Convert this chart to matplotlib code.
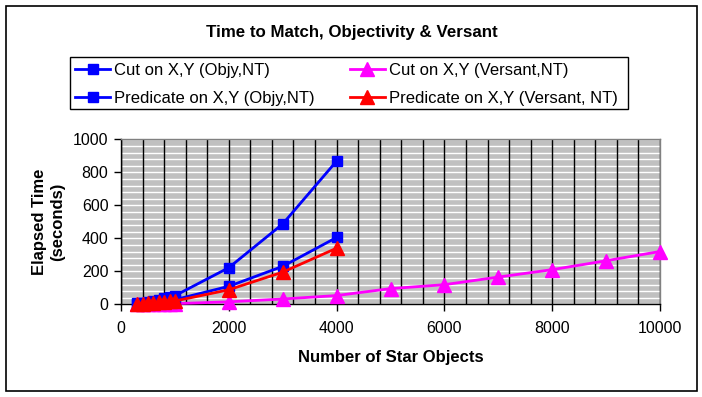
import matplotlib
matplotlib.use("Agg")
import matplotlib.pyplot as plt
from matplotlib.ticker import MultipleLocator
from matplotlib.patches import Rectangle

plt.rcParams['font.family'] = ['Liberation Sans', 'DejaVu Sans']

# ---- data ----
x_objy = [300, 400, 500, 600, 700, 800, 900, 1000, 2000, 3000, 4000]
cut_objy = [5, 10, 16, 22, 29, 36, 44, 52, 222, 487, 868]
pred_objy = [3, 6, 9, 12, 16, 20, 24, 28, 109, 230, 405]
x_versant_pred = [300, 400, 500, 600, 700, 800, 900, 1000, 2000, 3000, 4000]
pred_versant = [2, 4, 6, 8, 11, 14, 17, 20, 88, 195, 340]
x_versant_cut = [300, 400, 500, 600, 700, 800, 900, 1000,
                 2000, 3000, 4000, 5000, 6000, 7000, 8000, 9000, 10000]
cut_versant = [1, 1, 2, 2, 3, 3, 4, 4, 15, 32, 53, 95, 119, 165, 210, 264, 320]

title = "Time to Match, Objectivity & Versant"
xlabel = "Number of Star Objects"
ylabel = "Elapsed Time\n(seconds)"
labels = ["Cut on X,Y (Objy,NT)", "Predicate on X,Y (Objy,NT)",
          "Cut on X,Y (Versant,NT)", "Predicate on X,Y (Versant, NT)"]

W, H = 702, 397
fig = plt.figure(figsize=(W / 100, H / 100), dpi=100)
fig.patch.set_facecolor('white')

def fx(px):
    return px / W

def fy(py):
    return 1 - py / H

# outer border
fig.patches.append(Rectangle((fx(6), fy(391)), fx(691), (391 - 6) / H,
                             transform=fig.transFigure, fill=False,
                             edgecolor='black', linewidth=1.2))
# legend border
fig.patches.append(Rectangle((fx(70), fy(109)), fx(628 - 70), (109 - 57) / H,
                             transform=fig.transFigure, fill=False,
                             edgecolor='black', linewidth=1.0))

left, right, top, bottom = 121, 660, 139.3, 304.3
ax = fig.add_axes([fx(left), fy(bottom), (right - left) / W, (bottom - top) / H])
ax.set_facecolor('#C0C0C0')

lw = 2.0
ms_sq, ms_tri = 7.5, 10
l1, = ax.plot(x_objy, cut_objy, color='#0000FF', lw=lw, marker='s', ms=ms_sq,
              label=labels[0], zorder=3)
l3, = ax.plot(x_versant_cut, cut_versant, color='#FF00FF', lw=lw, marker='^', ms=ms_tri,
              label=labels[2], zorder=3)
l2, = ax.plot(x_objy, pred_objy, color='#0000FF', lw=lw, marker='s', ms=ms_sq,
              label=labels[1], zorder=3)
l4, = ax.plot(x_versant_pred, pred_versant, color='#FF0000', lw=lw, marker='^', ms=ms_tri,
              label=labels[3], zorder=3)
for l in (l1, l2, l3, l4):
    l.set_clip_on(False)

ax.set_xlim(0, 10000)
ax.set_ylim(0, 1000)
ax.xaxis.set_major_locator(MultipleLocator(2000))
ax.xaxis.set_minor_locator(MultipleLocator(400))
ax.yaxis.set_major_locator(MultipleLocator(200))
ax.yaxis.set_minor_locator(MultipleLocator(40))
ax.tick_params(axis='both', which='major', direction='out', length=5, width=1,
               color='black', labelsize=11.5)
ax.tick_params(axis='x', which='major', pad=7)
ax.tick_params(axis='y', which='major', pad=4)
ax.tick_params(axis='both', which='minor', length=0)
ax.xaxis.grid(True, which='both', color='black', linewidth=1.0)
ax.yaxis.grid(True, which='both', color='white', linewidth=1.0)
ax.set_axisbelow(True)
ax.yaxis.set_zorder(0.4)
ax.xaxis.set_zorder(0.6)
for s in ('left', 'bottom'):
    ax.spines[s].set_color('black')
    ax.spines[s].set_linewidth(1.0)
for s in ('top', 'right'):
    ax.spines[s].set_color('#808080')
    ax.spines[s].set_linewidth(1.0)

ax.set_xlabel(xlabel, fontsize=12, fontweight='bold', labelpad=10)
ax.set_ylabel(ylabel, fontsize=12, fontweight='bold', labelpad=6, linespacing=1.25)

fig.text(fx(352), fy(32), title, ha='center', va='center', fontsize=12.2,
         fontweight='bold')

fs = 12
leg = fig.legend(handles=[l1, l2, l3, l4], labels=labels, ncol=2,
                 loc='upper left', bbox_to_anchor=(fx(75), fy(62.5)),
                 bbox_transform=fig.transFigure, frameon=False,
                 fontsize=fs, handlelength=2.1, handletextpad=0.25,
                 columnspacing=2.1, borderpad=0, labelspacing=0.78,
                 borderaxespad=0)

fig.savefig("out.png", dpi=100)
